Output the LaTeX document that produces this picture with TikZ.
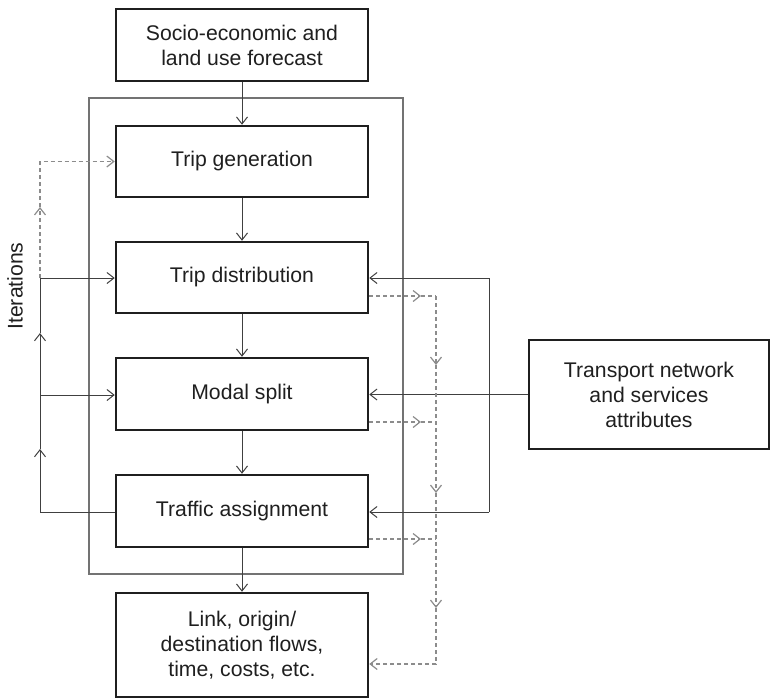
\documentclass[tikz,border=0pt]{standalone}
\usepackage{fontspec}
\setmainfont{Liberation Sans}
\usetikzlibrary{arrows.meta}

\begin{document}
\begin{tikzpicture}[x=1pt,y=-1pt,
  box/.style={draw=black!88, line width=2.5pt, minimum width=252pt, align=center,
    font=\fontsize{21.2}{25}\selectfont, text=black!88, inner sep=0pt},
  frame/.style={draw=black!55, line width=2.4pt, inner sep=0pt},
  link/.style={draw=black!75, line width=1pt},
  dashlink/.style={draw=black!45, line width=1.2pt, dash pattern=on 4pt off 3pt},
  tip/.style={-{Straight Barb[length=7pt,width=11pt]}},
]
\useasboundingbox (0,0) rectangle (772,699);

% grey frame around the four model stages
\node[frame, minimum width=314pt, minimum height=476pt] (frame) at (246,336) {};

% boxes
\node[box, minimum height=72pt] (top) at (242,45) {Socio-economic and\\land use forecast};
\node[box, minimum height=71pt] (gen) at (242,161.5) {Trip generation};
\node[box, minimum height=71pt] (dist) at (242,277.5) {Trip distribution};
\node[box, minimum height=72pt] (modal) at (242,394) {Modal split};
\node[box, minimum height=72pt] (assign) at (242,511) {Traffic assignment};
\node[box, minimum height=104pt] (out) at (242,645) {Link, origin/\\destination flows,\\time, costs, etc.};
\node[box, minimum width=240pt, minimum height=109pt] (net) at (649,394.5) {Transport network\\and services\\attributes};

\node[rotate=90, font=\fontsize{21.2}{25}\selectfont, text=black!88] (iter) at (15,286) {Iterations};

% main sequence
\draw[link,tip] (top.south) -- (gen.north);
\draw[link,tip] (gen.south) -- (dist.north);
\draw[link,tip] (dist.south) -- (modal.north);
\draw[link,tip] (modal.south) -- (assign.north);
\draw[link,tip] (assign.south) -- (out.north);

% iteration loop on the left
\coordinate (L1) at (40,161.5);
\coordinate (L2) at (40,278);
\coordinate (L3) at (40,395);
\coordinate (L4) at (40,512);
\coordinate (a1) at (40,449);
\coordinate (a2) at (40,333);
\coordinate (a3) at (40,207);
\draw[link,tip] (L4 -| assign.west) -- (L4) -- (a1);
\draw[link,tip] (a1) -- (a2);
\draw[link] (a2) -- (L2);
\draw[link,tip] (L2) -- (L2 -| dist.west);
\draw[link,tip] (L3) -- (L3 -| modal.west);
\draw[dashlink,tip] (L2) -- (a3);
\draw[dashlink,tip] (a3) -- (L1) -- (gen.west);

% network attributes feeding the stages
\coordinate (R1) at (489,278);
\coordinate (R2) at (489,512);
\draw[link] (R1) -- (R2);
\draw[link,tip] (net.west) -- (net.west -| modal.east);
\draw[link,tip] (R1) -- (R1 -| dist.east);
\draw[link,tip] (R2) -- (R2 -| assign.east);

% dashed outputs collected on the right
\coordinate (D1) at (436,296);
\coordinate (D2) at (436,422);
\coordinate (D3) at (436,539);
\coordinate (D4) at (436,664);
\coordinate (t1) at (421,296);
\coordinate (t2) at (421,422);
\coordinate (t3) at (421,539);
\coordinate (d1) at (436,365);
\coordinate (d2) at (436,493);
\coordinate (d3) at (436,608);
\draw[dashlink,tip] (t1 -| dist.east) -- (t1);
\draw[dashlink] (t1) -- (D1);
\draw[dashlink,tip] (t2 -| modal.east) -- (t2);
\draw[dashlink] (t2) -- (D2);
\draw[dashlink,tip] (t3 -| assign.east) -- (t3);
\draw[dashlink] (t3) -- (D3);
\draw[dashlink,tip] (D1) -- (d1);
\draw[dashlink,tip] (d1) -- (d2);
\draw[dashlink,tip] (d2) -- (d3);
\draw[dashlink,tip] (d3) -- (D4) -- (D4 -| out.east);
\end{tikzpicture}
\end{document}
